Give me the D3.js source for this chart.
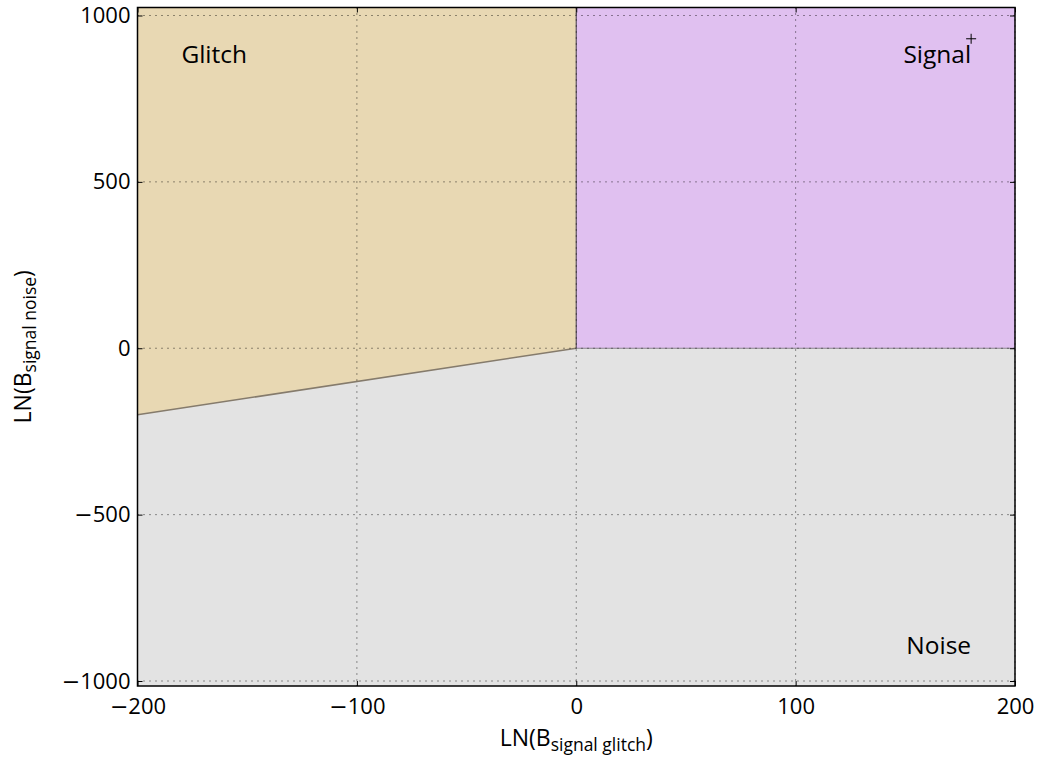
<!DOCTYPE html>
<html><head><meta charset="utf-8">
<script src="https://cdn.jsdelivr.net/npm/d3@7"></script>
<style>body{margin:0;background:#fff;} text{font-family:"Open Sans",sans-serif;fill:#000;}</style>
</head><body>
<svg id="c" width="1040" height="757"></svg>
<script>
const xDomain = [-200, 200];
const yDomain = [-1015, 1024];
const xTicks = [-200, -100, 0, 100, 200];
const yTicks = [-1000, -500, 0, 500, 1000];
const glitchRegion = [[-200, -200], [0, 0], [0, 1024], [-200, 1024]];
const signalRegion = [[0, 0], [200, 0], [200, 1024], [0, 1024]];
const noiseRegion = [[-200, -1015], [200, -1015], [200, 0], [0, 0], [-200, -200]];
const regionLabels = [
  {text: "Glitch", x: -180, y: 882, anchor: "start"},
  {text: "Signal", x: 180, y: 882, anchor: "end"},
  {text: "Noise", x: 180, y: -894, anchor: "end"}
];
const points = [[180, 930]];

const L = 137.5, R = 1015, T = 7.5, B = 686;
const svg = d3.select("#c");
const x = d3.scaleLinear().domain(xDomain).range([L, R]);
const y = d3.scaleLinear().domain(yDomain).range([B, T]);
const line = d3.line().x(d => x(d[0])).y(d => y(d[1]));

svg.append("path").attr("d", line(noiseRegion) + "Z").attr("fill", "#e3e3e3");
svg.append("path").attr("d", line(glitchRegion) + "Z").attr("fill", "#e8d8b3");
svg.append("path").attr("d", line(signalRegion) + "Z").attr("fill", "#e0c0f0");

// boundaries
svg.append("path").attr("d", line([[-200, -200], [0, 0]])).attr("stroke", "#857b6c").attr("stroke-width", 1.5).attr("fill", "none");
svg.append("path").attr("d", line([[0, 0], [200, 0]])).attr("stroke", "#8a858c").attr("stroke-width", 1.2).attr("fill", "none");
svg.append("path").attr("d", line([[0, 0], [0, 1024]])).attr("stroke", "#5a4f5e").attr("stroke-width", 1.2).attr("fill", "none");

// grid
const g = svg.append("g");
xTicks.forEach(t => g.append("line").attr("x1", x(t)).attr("x2", x(t)).attr("y1", T).attr("y2", B)
  .attr("stroke", "#000").attr("stroke-width", 1).attr("stroke-dasharray", "1,5").attr("opacity", 0.8));
yTicks.forEach(t => g.append("line").attr("y1", y(t)).attr("y2", y(t)).attr("x1", L).attr("x2", R)
  .attr("stroke", "#000").attr("stroke-width", 1).attr("stroke-dasharray", "1,5").attr("opacity", 0.8));

// axes with inward ticks
const axB = svg.append("g").attr("transform", `translate(0,${B})`)
  .call(d3.axisBottom(x).tickValues(xTicks).tickSizeInner(-5).tickSizeOuter(0).tickPadding(11).tickFormat(""));
const axT = svg.append("g").attr("transform", `translate(0,${T})`)
  .call(d3.axisTop(x).tickValues(xTicks).tickSizeInner(-5).tickSizeOuter(0).tickFormat(""));
const axL = svg.append("g").attr("transform", `translate(${L},0)`)
  .call(d3.axisLeft(y).tickValues(yTicks).tickSizeInner(-5).tickSizeOuter(0).tickPadding(7).tickFormat(""));
const axR = svg.append("g").attr("transform", `translate(${R},0)`)
  .call(d3.axisRight(y).tickValues(yTicks).tickSizeInner(-5).tickSizeOuter(0).tickFormat(""));
[axB, axT, axL, axR].forEach(a => {
  a.select(".domain").remove();
  a.selectAll(".tick line").attr("stroke", "#000").attr("stroke-width", 1);
});
// tick labels with a long minus sign
function writeLabel(sel, d) {
  sel.text(null);
  if (d < 0) sel.append("tspan").style("font-family", "'DejaVu Sans',sans-serif").text("\u2212");
  sel.append("tspan").text(Math.abs(d));
}
axB.selectAll(".tick text").each(function(d) { writeLabel(d3.select(this), d); })
  .style("font-size", "22px").attr("fill", "#000").attr("dy", "0.76em");
axL.selectAll(".tick text").each(function(d) { writeLabel(d3.select(this), d); })
  .style("font-size", "22px").attr("fill", "#000");

// frame
svg.append("rect").attr("x", L).attr("y", T).attr("width", R - L).attr("height", B - T)
  .attr("fill", "none").attr("stroke", "#000").attr("stroke-width", 1.5);

// region labels
regionLabels.forEach(d => svg.append("text").attr("x", x(d.x)).attr("y", y(d.y)).attr("dy", "0.35em")
  .attr("text-anchor", d.anchor).style("font-size", "24.5px").attr("fill", "#222").text(d.text));

// point markers
points.forEach(p => {
  const px = x(p[0]), py = y(p[1]);
  svg.append("path").attr("d", `M${px - 5},${py}H${px + 5}M${px},${py - 5}V${py + 5}`).attr("stroke", "#000").attr("stroke-width", 1);
});

// axis labels
const xl = svg.append("text").attr("x", (L + R) / 2).attr("y", 746).attr("text-anchor", "middle").style("font-size", "23px");
xl.append("tspan").text("LN(B");
xl.append("tspan").attr("dy", 5).style("font-size", "17.5px").text("signal glitch");
xl.append("tspan").attr("dy", -5).text(")");
const yl = svg.append("text").attr("transform", `translate(31,${(T + B) / 2}) rotate(-90)`).attr("text-anchor", "middle").style("font-size", "23px");
yl.append("tspan").text("LN(B");
yl.append("tspan").attr("dy", 5).style("font-size", "17.5px").text("signal noise");
yl.append("tspan").attr("dy", -5).text(")");
</script>
</body></html>
